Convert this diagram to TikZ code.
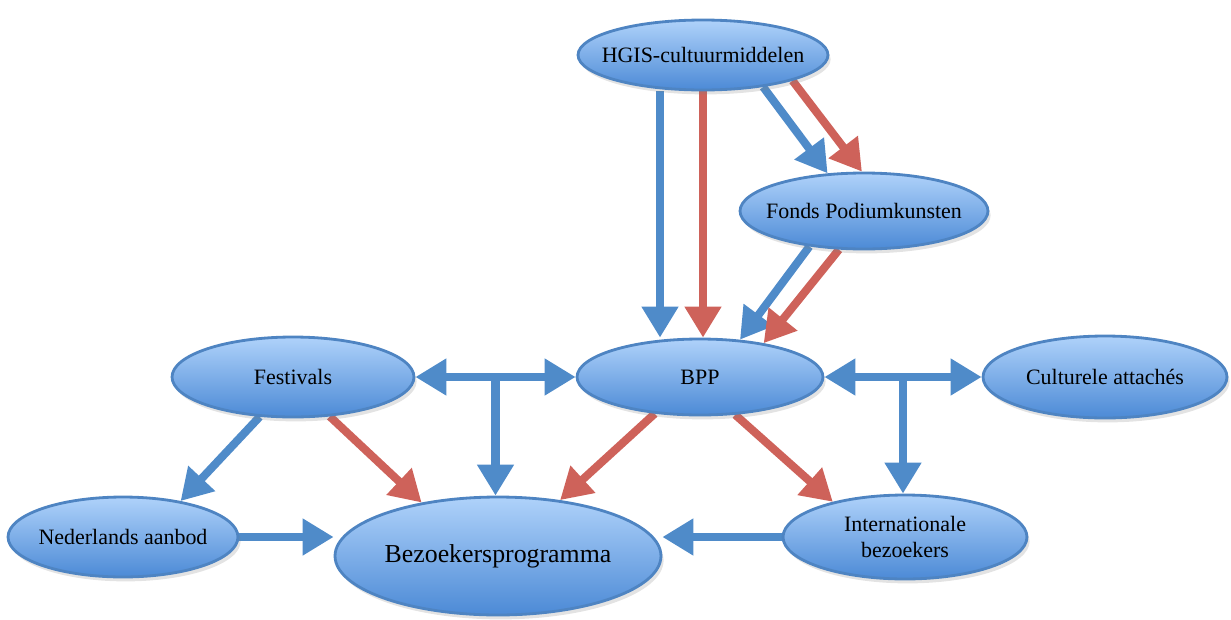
\documentclass[tikz,border=0pt]{standalone}
\usepackage{fontspec}
\setmainfont{Liberation Serif}
\usetikzlibrary{arrows.meta,shapes.geometric,shadows,calc,backgrounds}
\definecolor{bluearr}{HTML}{4F8BC9}
\definecolor{redarr}{HTML}{CE625A}
\definecolor{ovaltop}{HTML}{AFD2FA}
\definecolor{ovalbot}{HTML}{4C8AD6}
\definecolor{ovalrim}{HTML}{4E84C2}
\tikzset{
  oval/.style={ellipse, draw=ovalrim, line width=1.6pt, top color=ovaltop,
    bottom color=ovalbot, inner xsep=-1.2cm, inner ysep=-0.4cm, align=center,
    drop shadow={opacity=0.22,shadow xshift=1.5pt,shadow yshift=-2.5pt},
    font=\fontsize{12.5}{15}\selectfont},
  bl/.style={draw=bluearr, line width=4.6pt,
    -{Triangle[length=0.62cm,width=0.7cm]}},
  blb/.style={bl, {Triangle[length=0.62cm,width=0.7cm]}-{Triangle[length=0.62cm,width=0.7cm]}},
  rd/.style={bl, draw=redarr},
}
\begin{document}
\begin{tikzpicture}[x=0.02cm,y=-0.02cm]
\useasboundingbox (0,0) rectangle (1231,619);
\node[oval,minimum width=5cm,minimum height=1.4cm] (hgis) at (703,55) {HGIS-cultuurmiddelen};
\node[oval,minimum width=4.96cm,minimum height=1.52cm] (fonds) at (864,211) {Fonds Podiumkunsten};
\node[oval,minimum width=4.92cm,minimum height=1.52cm] (bpp) at (700,377) {BPP};
\node[oval,minimum width=4.84cm,minimum height=1.6cm] (fest) at (293,377) {Festivals};
\node[oval,minimum width=4.88cm,minimum height=1.64cm] (cult) at (1105,377) {Culturele attachés};
\node[oval,minimum width=4.88cm,minimum height=1.68cm] (intl) at (905,537) {Internationale\\bezoekers};
\node[oval,minimum width=4.6cm,minimum height=1.6cm] (ned) at (123,537) {Nederlands aanbod};
\node[oval,minimum width=6.52cm,minimum height=2.36cm,
  font=\fontsize{14.7}{17}\selectfont] (bez) at (498,556) {Bezoekersprogramma};

\begin{scope}[on background layer]
% geld en informatie van boven
\draw[bl] ([xshift=-0.86cm]hgis.south) -- ([xshift=-0.86cm]hgis.south |- bpp.north);
\draw[rd] (hgis.south) -- (hgis.south |- bpp.north);
\draw[bl] (hgis.-28) -- (fonds.134);
\draw[rd] (hgis.-16) -- (fonds.93);
\draw[bl] (fonds.-147) -- (bpp.43);
\draw[rd] (fonds.-123) -- (bpp.28);
% dubbele pijlen met aftakking
\draw[blb] (fest.east) -- (bpp.west);
\coordinate (fj) at ($(fest.east)!0.5!(bpp.west)$);
\draw[bl] (fj) -- (fj |- bez.north);
\draw[blb] (bpp.east) -- (cult.west);
\coordinate (cj) at ($(bpp.east)!0.5!(cult.west)$);
\draw[bl] (cj) -- (cj |- intl.north);
% naar het bezoekersprogramma
\draw[rd] (fest.-47) -- (bez.145);
\draw[bl] (fest.-130) -- (ned.32);
\draw[rd] (bpp.-141) -- (bez.42);
\draw[rd] (bpp.-47) -- (intl.154);
\draw[bl] (ned.east) -- (ned.east -| bez.west);
\draw[bl] (intl.west) -- (intl.west -| bez.east);
\end{scope}
\end{tikzpicture}
\end{document}
